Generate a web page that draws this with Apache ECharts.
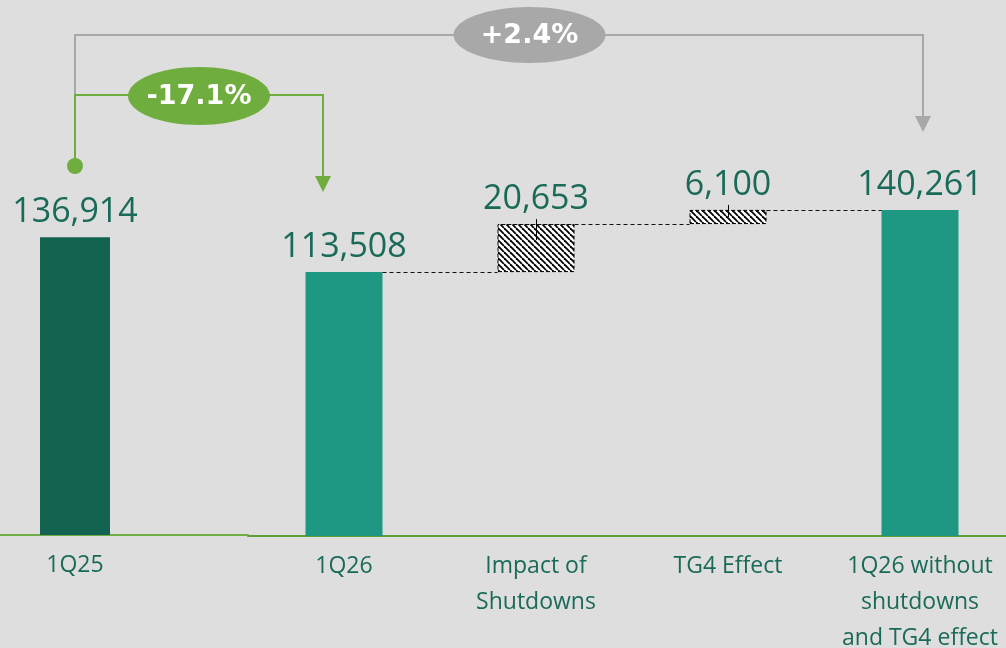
<!DOCTYPE html>
<html>
<head>
<meta charset="utf-8">
<script src="https://cdn.jsdelivr.net/npm/echarts@6/dist/echarts.min.js"></script>
<style>
  html, body { margin: 0; padding: 0; background: #dedede; }
  #chart { width: 1006px; height: 648px; }
</style>
</head>
<body>
<div id="chart"></div>
<script>
// ===== data =====
const categories = ['1Q25', '1Q26', 'Impact of\nShutdowns', 'TG4 Effect', '1Q26 without\nshutdowns\nand TG4 effect'];
const values = [136914, 113508, 20653, 6100, 140261];
const isDelta = [false, false, true, true, false];
const changeLabels = ['-17.1%', '+2.4%'];

// ===== colours =====
const TEAL_DARK = '#12634f';
const TEAL = '#1e9783';
const TEXT = '#1a6a5a';
const GREEN = '#70ad3f';
const GREY = '#a8a8a8';
const FONT = '"Open Sans", "Noto Sans", sans-serif';

// hatch pattern for the delta bars
function makeHatch() {
  const p = 6;
  const c = document.createElement('canvas');
  c.width = p; c.height = p;
  const ctx = c.getContext('2d');
  ctx.fillStyle = '#fff';
  ctx.fillRect(0, 0, p, p);
  ctx.strokeStyle = '#000';
  ctx.lineWidth = 1.8;
  [-p, 0, p].forEach(k => {
    ctx.beginPath(); ctx.moveTo(k, 0); ctx.lineTo(k + p, p); ctx.stroke();
  });
  return c;
}
const hatch = makeHatch();

// waterfall base for the second panel
const rest = values.slice(1);
const restDelta = isDelta.slice(1);
let running = 0;
const base = rest.map((v, i) => {
  if (restDelta[i]) { const b = running; running += v; return b; }
  running = v;
  return 0;
});

const fmt = v => v.toLocaleString('en-US');
const valueLabel = {
  show: true, position: 'top', distance: 8,
  color: TEXT, fontFamily: FONT, fontSize: 34,
  formatter: p => fmt(p.value)
};
function xAxisFor(g, cats, lineColor) {
  return {
    gridIndex: g, type: 'category', data: cats,
    axisTick: { show: false },
    axisLine: { lineStyle: { color: lineColor, width: 2 } },
    axisLabel: {
      interval: 0,
      color: TEXT, fontFamily: FONT, fontSize: 23, lineHeight: 36, margin: 12
    }
  };
}

const chart = echarts.init(document.getElementById('chart'));
chart.setOption({
  backgroundColor: '#dedede',
  animation: false,
  grid: [
    { left: -98, width: 346, top: 187, bottom: 113, outerBoundsMode: 'none' },
    { left: 248, width: 768, top: 164, bottom: 112, outerBoundsMode: 'none' }
  ],
  xAxis: [
    xAxisFor(0, categories.slice(0, 1), '#72ae46'),
    xAxisFor(1, categories.slice(1), '#5f9d35')
  ],
  yAxis: [
    { gridIndex: 0, type: 'value', min: 0, max: 160000, show: false },
    { gridIndex: 1, type: 'value', min: 0, max: 160000, show: false }
  ],
  series: [
    {
      type: 'bar', xAxisIndex: 0, yAxisIndex: 0, barWidth: 70,
      data: values.slice(0, 1),
      itemStyle: { color: TEAL_DARK },
      label: valueLabel
    },
    {
      type: 'bar', xAxisIndex: 1, yAxisIndex: 1, stack: 'wf', barWidth: 77,
      data: base, itemStyle: { color: 'transparent' }, silent: true
    },
    {
      type: 'bar', xAxisIndex: 1, yAxisIndex: 1, stack: 'wf', barWidth: 77,
      data: rest.map((v, i) => ({
        value: v,
        itemStyle: restDelta[i]
          ? { color: { image: hatch, repeat: 'repeat' }, borderColor: '#000', borderWidth: 1, borderType: [4, 2] }
          : { color: TEAL }
      })),
      label: valueLabel
    }
  ]
});

// ===== decorations built from the chart's own scales =====
const px = (g, i, v) => chart.convertToPixel({ xAxisIndex: g, yAxisIndex: g }, [i, v]);
const crisp = y => Math.round(y) + 0.5;
const half = 77 / 2;
const graphic = [];

// dashed connectors between bars
for (let i = 0; i < rest.length - 1; i++) {
  const top = base[i] + rest[i];
  const a = px(1, i, top), b = px(1, i + 1, top);
  graphic.push({
    type: 'line', z: 10,
    shape: { x1: a[0] + half, y1: crisp(a[1]), x2: b[0] - half, y2: crisp(b[1]) },
    style: { stroke: '#111', lineWidth: 1, lineDash: [4, 3] }
  });
}
// small ticks on the delta bars
rest.forEach((v, i) => {
  if (!restDelta[i]) return;
  const t = px(1, i, base[i] + v);
  const h = px(1, i, base[i])[1] - t[1];
  graphic.push({
    type: 'line', z: 10,
    shape: { x1: crisp(t[0]), y1: t[1] - 5, x2: crisp(t[0]), y2: t[1] + Math.min(16, h / 2) },
    style: { stroke: '#000', lineWidth: 1 }
  });
});

// change brackets
const x0 = px(0, 0, 0)[0];
const xg = px(1, 0, 0)[0] - 21;
const xr = px(1, 3, 0)[0] + 3;
const yG = 95, yR = 35;

function arrowHead(x, tip, color) {
  return {
    type: 'polygon', z: 20,
    shape: { points: [[x - 8, tip - 16], [x + 8, tip - 16], [x, tip]] },
    style: { fill: color }
  };
}
graphic.push(
  {
    type: 'polyline', z: 18,
    shape: { points: [[x0, yG], [x0, yR], [xr, yR], [xr, 118]] },
    style: { stroke: GREY, lineWidth: 2, fill: null }
  },
  arrowHead(xr, 132, GREY),
  {
    type: 'polyline', z: 19,
    shape: { points: [[x0, 166], [x0, yG], [xg, yG], [xg, 178]] },
    style: { stroke: GREEN, lineWidth: 2, fill: null }
  },
  arrowHead(xg, 192, GREEN),
  { type: 'circle', z: 20, shape: { cx: x0, cy: 166, r: 8 }, style: { fill: GREEN } },
  { type: 'ellipse', z: 21, shape: { cx: (x0 + xg) / 2, cy: 96, rx: 71, ry: 29 }, style: { fill: GREEN } },
  {
    type: 'text', z: 22,
    style: {
      text: changeLabels[0], x: (x0 + xg) / 2, y: 97, align: 'center', verticalAlign: 'middle',
      fill: '#fff', font: 'bold 27px "DejaVu Sans", sans-serif'
    }
  },
  { type: 'ellipse', z: 21, shape: { cx: 529.5, cy: 35, rx: 76, ry: 28 }, style: { fill: GREY } },
  {
    type: 'text', z: 22,
    style: {
      text: changeLabels[1], x: 529.5, y: 36, align: 'center', verticalAlign: 'middle',
      fill: '#fff', font: 'bold 27px "DejaVu Sans", sans-serif'
    }
  }
);

chart.setOption({ graphic: graphic });
</script>
</body>
</html>
